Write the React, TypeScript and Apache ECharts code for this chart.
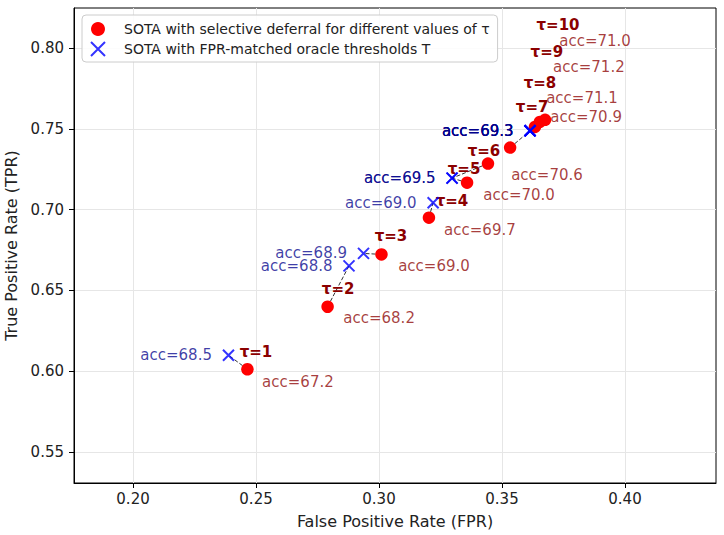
import { useEffect, useRef } from "react";
import * as echarts from "echarts";

// Selective-deferral operating points for each threshold τ
const tauValues = [1, 2, 3, 4, 5, 6, 7, 8, 9, 10];
const deferralFpr = [0.2465, 0.2791, 0.301, 0.3203, 0.3358, 0.3443, 0.3533, 0.3634, 0.3654, 0.3675];
const deferralTpr = [0.6012, 0.6399, 0.6723, 0.695, 0.7167, 0.7285, 0.7384, 0.7512, 0.7543, 0.7556];
const deferralAcc = [67.2, 68.2, 69.0, 69.7, 70.0, 70.6, 70.9, 71.1, 71.2, 71.0];

// Oracle thresholds T matched on FPR
const oracleFpr = [0.2388, 0.2878, 0.2937, 0.322, 0.3297, 0.3297, 0.3614, 0.3614, 0.3614, 0.3614];
const oracleTpr = [0.6099, 0.6652, 0.6729, 0.7043, 0.7195, 0.7195, 0.7488, 0.7488, 0.7488, 0.7488];
const oracleAcc = [68.5, 68.8, 68.9, 69.0, 69.5, 69.5, 69.3, 69.3, 69.3, 69.3];

const xTicks = [0.2, 0.25, 0.3, 0.35, 0.4];
const yTicks = [0.55, 0.6, 0.65, 0.7, 0.75, 0.8];

// Label nudges in pixels so the annotations do not collide
const tauLabelShift = [
  [8.5, -17], [10.5, -17.5], [9.5, -18], [23, -17], [-3, -14],
  [-4, -13], [22, -41], [5, -44], [7, -70], [13, -95],
];
const accLabelShift = [
  [50.5, 13], [51.5, 11.5], [52.5, 12], [51, 12], [52, 12],
  [59, 11], [76, -31], [47, -29], [49, -55], [50, -79],
];

const DEFERRAL_NAME = "SOTA with selective deferral for different values of τ";
const ORACLE_NAME = "SOTA with FPR-matched oracle thresholds T";
const CROSS = "path://M0,0L10,10M10,0L0,10";
const FONT = "DejaVu Sans";

export default function App() {
  const ref = useRef<HTMLDivElement>(null);

  useEffect(() => {
    document.body.style.margin = "0";
    const chart = echarts.init(ref.current!, null, { renderer: "svg" });

    const axisCommon = {
      type: "value",
      axisLine: { show: true, onZero: false, lineStyle: { color: "#000", width: 1 } },
      axisTick: { show: true, length: 5, lineStyle: { color: "#000" } },
      splitLine: { show: true, lineStyle: { color: "#e6e6e6", width: 1 } },
      nameLocation: "middle",
      nameTextStyle: { fontFamily: FONT, fontSize: 16, color: "#222" },
    };

    chart.setOption({
      animation: false,
      backgroundColor: "#fff",
      textStyle: { fontFamily: FONT },
      grid: {
        left: 74, right: 8, top: 8, bottom: 52,
        containLabel: false,
        outerBoundsMode: "none",
        show: true, borderColor: "#000", borderWidth: 1,
      },
      legend: {
        left: 82, top: 15,
        orient: "vertical",
        padding: [7, 8, 5, 8],
        itemWidth: 24, itemHeight: 14, itemGap: 5,
        backgroundColor: "rgba(255,255,255,0.85)",
        borderColor: "#cccccc", borderWidth: 1, borderRadius: 4,
        textStyle: { fontFamily: FONT, fontSize: 14, color: "#222", padding: [0, 0, 0, 9] },
        selectedMode: false,
        data: [
          { name: DEFERRAL_NAME, icon: "circle", itemStyle: { color: "#ff0000" } },
          {
            name: ORACLE_NAME, icon: CROSS,
            itemStyle: { color: "rgba(0,0,0,0)", borderColor: "#0000ff", borderWidth: 2 },
          },
        ],
      },
      xAxis: {
        ...axisCommon,
        min: 0.176, max: 0.437,
        name: "False Positive Rate (FPR)",
        nameGap: 30,
        axisTick: { ...axisCommon.axisTick, customValues: xTicks },
        axisLabel: {
          customValues: xTicks, margin: 8,
          fontFamily: FONT, fontSize: 15, color: "#222",
          formatter: (v: number) => v.toFixed(2),
        },
      },
      yAxis: {
        ...axisCommon,
        min: 0.5308, max: 0.8248,
        name: "True Positive Rate (TPR)",
        nameGap: 48,
        axisTick: { ...axisCommon.axisTick, customValues: yTicks },
        axisLabel: {
          customValues: yTicks, margin: 10,
          fontFamily: FONT, fontSize: 15, color: "#222",
          formatter: (v: number) => v.toFixed(2),
        },
      },
      series: [
        {
          type: "lines",
          coordinateSystem: "cartesian2d",
          silent: true,
          z: 1,
          lineStyle: { color: "#000", width: 1, type: [4, 2], opacity: 0.8 },
          data: tauValues.map((_, i) => ({
            coords: [
              [deferralFpr[i], deferralTpr[i]],
              [oracleFpr[i], oracleTpr[i]],
            ],
          })),
        },
        {
          name: DEFERRAL_NAME,
          type: "scatter",
          z: 3,
          symbol: "circle",
          symbolSize: 12.5,
          itemStyle: { color: "#ff0000", opacity: 1 },
          emphasis: { disabled: true },
          label: {
            show: true,
            position: "inside",
            fontFamily: FONT,
            fontSize: 15,
            fontWeight: "bold",
            color: "#8b0000",
          },
          data: tauValues.map((t, i) => ({
            value: [deferralFpr[i], deferralTpr[i]],
            label: { formatter: "τ=" + t, offset: tauLabelShift[i] },
          })),
        },
        {
          name: ORACLE_NAME,
          type: "scatter",
          z: 4,
          symbol: CROSS,
          symbolSize: 11,
          itemStyle: { color: "rgba(0,0,0,0)", borderColor: "#0000ff", borderWidth: 2 },
          emphasis: { disabled: true },
          label: {
            show: true,
            position: "left",
            distance: 10,
            fontFamily: FONT,
            fontSize: 15,
            color: "rgba(0,0,139,0.95)",
          },
          data: tauValues.map((_, i) => ({
            value: [oracleFpr[i], oracleTpr[i]],
            label: { formatter: "acc=" + oracleAcc[i].toFixed(1) },
          })),
        },
        {
          name: "deferral accuracy",
          type: "scatter",
          z: 5,
          symbolSize: 1,
          silent: true,
          itemStyle: { color: "rgba(0,0,0,0)" },
          emphasis: { disabled: true },
          label: {
            show: true,
            position: "inside",
            fontFamily: FONT,
            fontSize: 15,
            color: "rgba(139,0,0,0.95)",
          },
          data: tauValues.map((_, i) => ({
            value: [deferralFpr[i], deferralTpr[i]],
            label: { formatter: "acc=" + deferralAcc[i].toFixed(1), offset: accLabelShift[i] },
          })),
        },
      ],
    });

    return () => chart.dispose();
  }, []);

  return <div ref={ref} style={{ width: 724, height: 535 }} />;
}
